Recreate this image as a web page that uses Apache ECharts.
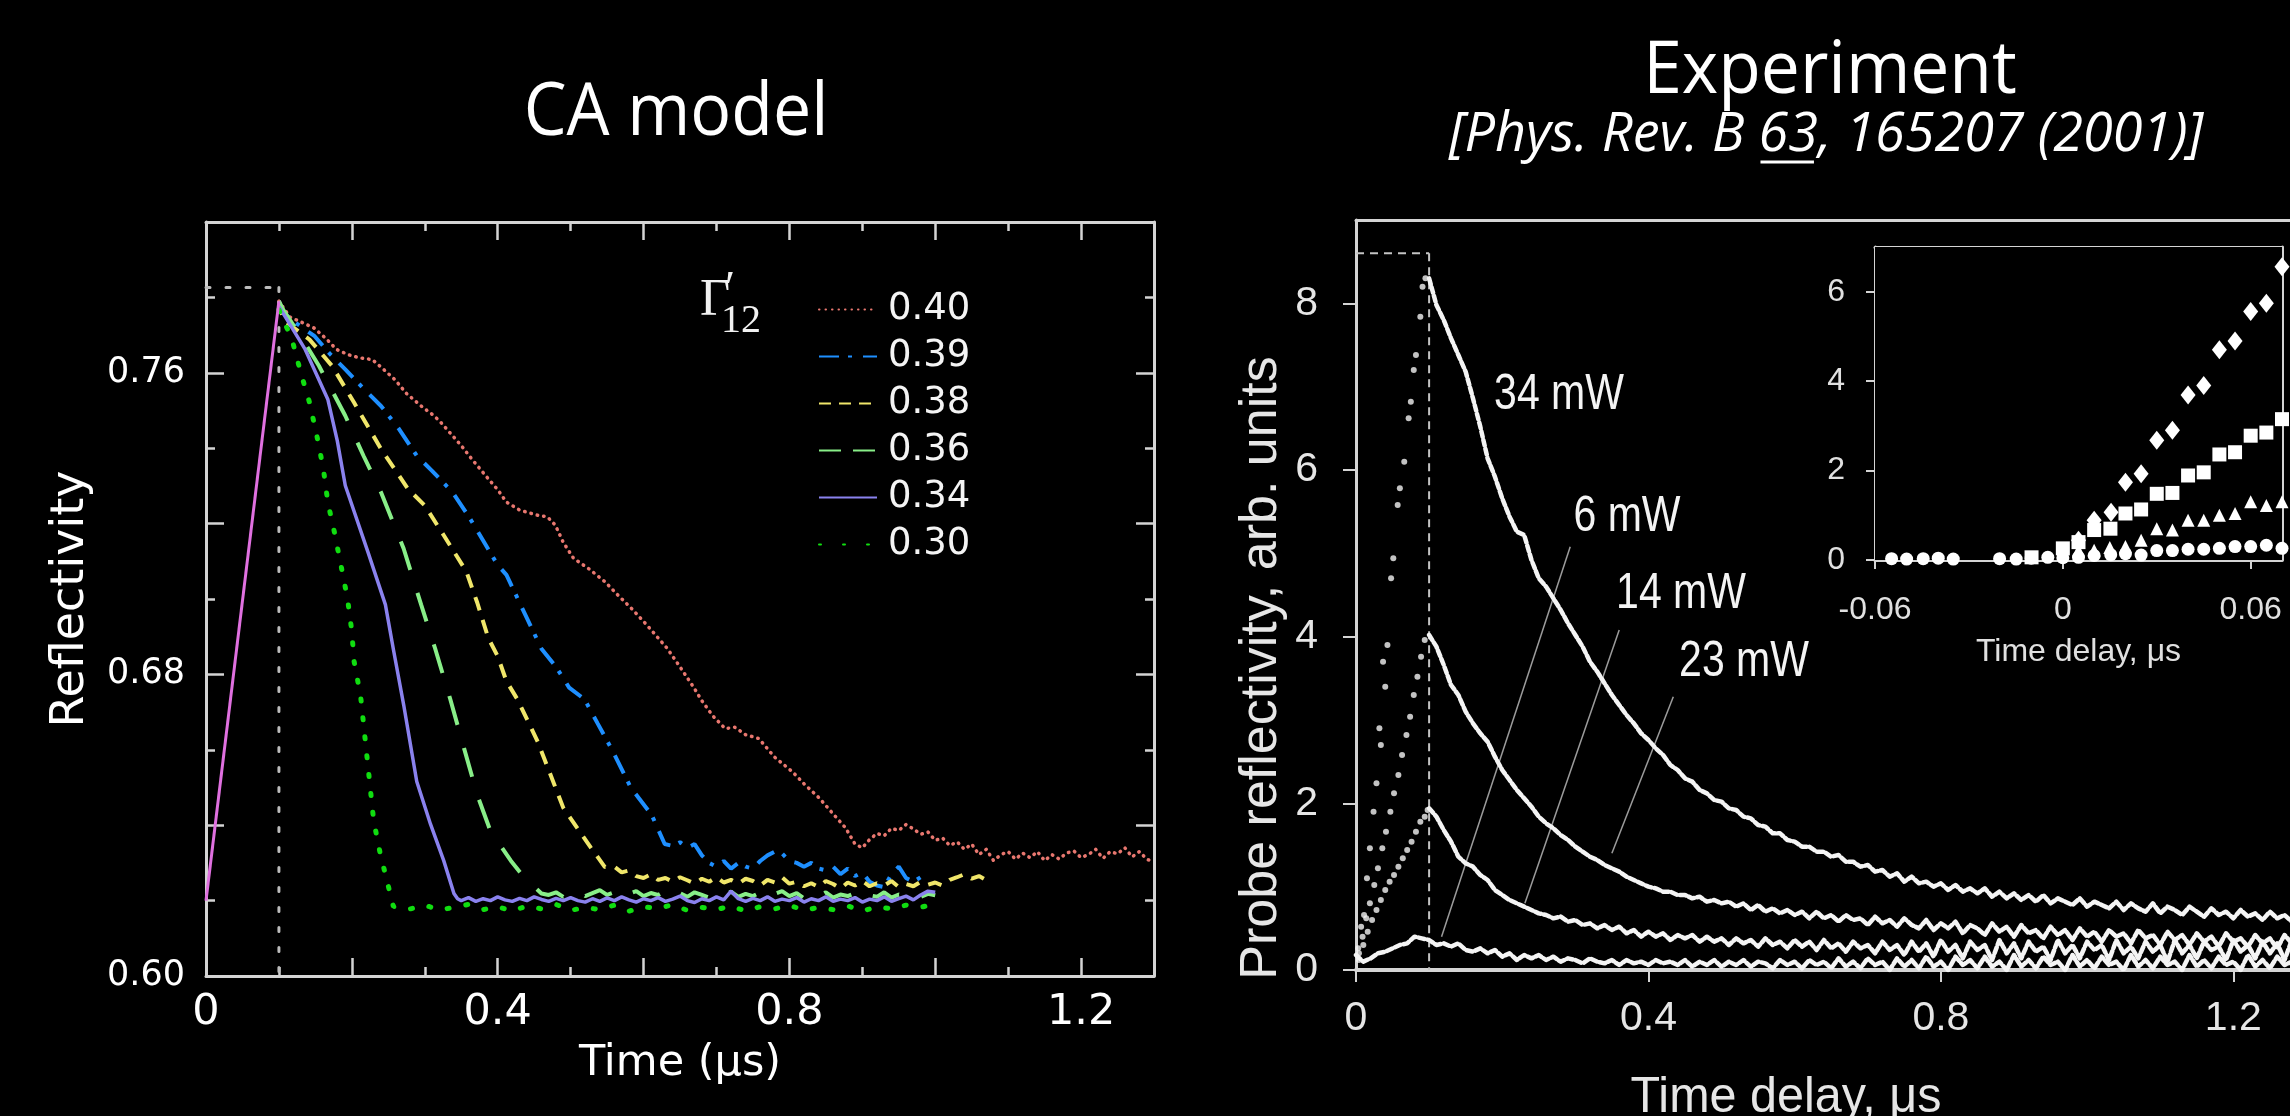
<!DOCTYPE html>
<html>
<head>
<meta charset="utf-8">
<script src="https://cdn.jsdelivr.net/npm/echarts@6/dist/echarts.min.js"></script>
<style>
  html, body { margin: 0; padding: 0; background: #000; }
  #chart { width: 2290px; height: 1116px; }
</style>
</head>
<body>
<div id="chart"></div>
<script>
// ---------------- CA model (left panel) ----------------
// Reflectivity vs time (µs) for several Γ'12 values: [time, reflectivity]
const modelNames = ['0.40', '0.39', '0.38', '0.36', '0.34', '0.30'];

const model040 = [[0.10,0.7790],[0.115,0.7748],[0.13,0.7735],[0.148,0.7719],[0.165,0.7690],[0.179,0.7662],[0.195,0.7648],[0.21,0.7640],[0.228,0.7635],[0.243,0.7610],[0.259,0.7582],[0.275,0.7545],[0.295,0.7512],[0.31,0.7490],[0.32,0.7473],[0.335,0.7440],[0.35,0.7407],[0.365,0.7370],[0.387,0.7319],[0.40,0.7290],[0.412,0.7257],[0.43,0.7236],[0.455,0.7222],[0.468,0.7218],[0.479,0.7196],[0.49,0.7150],[0.504,0.7108],[0.525,0.7080],[0.547,0.7046],[0.565,0.7010],[0.583,0.6976],[0.605,0.6930],[0.632,0.6870],[0.65,0.6820],[0.669,0.6765],[0.68,0.6730],[0.695,0.6690],[0.712,0.6656],[0.725,0.6660],[0.74,0.6640],[0.758,0.6630],[0.78,0.6580],[0.804,0.6542],[0.82,0.6510],[0.841,0.6472],[0.86,0.6430],[0.877,0.6393],[0.89,0.6350],[0.90,0.6340],[0.91,0.6362],[0.92,0.6378],[0.93,0.6372],[0.94,0.6392],[0.95,0.6386],[0.96,0.6402],[0.97,0.6390],[0.98,0.6376],[0.99,0.6382],[1.00,0.6360],[1.01,0.6366],[1.02,0.6346],[1.03,0.6356],[1.04,0.6336],[1.05,0.6350],[1.06,0.6322],[1.07,0.6336],[1.08,0.6306],[1.09,0.6322],[1.10,0.6330],[1.11,0.6310],[1.12,0.6326],[1.13,0.6314],[1.14,0.6330],[1.15,0.6306],[1.16,0.6322],[1.17,0.6310],[1.18,0.6326],[1.19,0.6332],[1.20,0.6314],[1.21,0.6322],[1.22,0.6336],[1.23,0.6312],[1.24,0.6330],[1.25,0.6324],[1.26,0.6340],[1.27,0.6316],[1.28,0.6330],[1.29,0.6310],[1.30,0.6302]];

const model039 = [[0.10,0.7790],[0.106,0.7758],[0.125,0.7730],[0.149,0.7697],[0.17,0.7650],[0.191,0.7609],[0.215,0.7560],[0.24,0.7512],[0.265,0.7450],[0.289,0.7380],[0.31,0.7340],[0.338,0.7283],[0.36,0.7220],[0.381,0.7152],[0.40,0.7090],[0.412,0.7064],[0.435,0.6970],[0.46,0.6868],[0.48,0.6820],[0.498,0.6765],[0.519,0.6734],[0.537,0.6670],[0.556,0.6603],[0.583,0.6498],[0.611,0.6428],[0.629,0.6350],[0.64,0.6345],[0.65,0.6355],[0.66,0.6340],[0.67,0.6350],[0.68,0.6320],[0.69,0.6300],[0.70,0.6290],[0.71,0.6305],[0.72,0.6285],[0.73,0.6300],[0.74,0.6290],[0.75,0.6285],[0.76,0.6305],[0.77,0.6320],[0.78,0.6330],[0.79,0.6325],[0.80,0.6305],[0.81,0.6300],[0.82,0.6290],[0.83,0.6300],[0.84,0.6285],[0.85,0.6280],[0.86,0.6290],[0.87,0.6270],[0.88,0.6285],[0.89,0.6265],[0.90,0.6275],[0.91,0.6250],[0.92,0.6240],[0.93,0.6236],[0.94,0.6270],[0.95,0.6290],[0.96,0.6260],[0.97,0.6250],[0.98,0.6262]];

const model038 = [[0.10,0.7790],[0.106,0.7740],[0.142,0.7688],[0.173,0.7618],[0.203,0.7521],[0.24,0.7398],[0.277,0.7292],[0.30,0.7248],[0.326,0.7169],[0.357,0.7073],[0.372,0.6990],[0.387,0.6897],[0.40,0.6848],[0.412,0.6782],[0.427,0.6734],[0.455,0.6621],[0.49,0.6446],[0.51,0.6390],[0.528,0.6340],[0.547,0.6289],[0.56,0.6290],[0.57,0.6275],[0.58,0.6280],[0.59,0.6265],[0.60,0.6260],[0.61,0.6270],[0.62,0.6255],[0.63,0.6260],[0.64,0.6250],[0.65,0.6262],[0.66,0.6254],[0.67,0.6245],[0.68,0.6258],[0.69,0.6250],[0.70,0.6262],[0.71,0.6248],[0.72,0.6255],[0.73,0.6245],[0.74,0.6258],[0.75,0.6252],[0.76,0.6240],[0.77,0.6255],[0.78,0.6248],[0.79,0.6262],[0.80,0.6245],[0.81,0.6250],[0.82,0.6238],[0.83,0.6246],[0.84,0.6236],[0.85,0.6252],[0.86,0.6244],[0.87,0.6232],[0.88,0.6248],[0.89,0.6240],[0.90,0.6252],[0.91,0.6238],[0.92,0.6246],[0.93,0.6240],[0.94,0.6252],[0.95,0.6236],[0.96,0.6244],[0.97,0.6238],[0.98,0.6250],[0.99,0.6242],[1.00,0.6248],[1.01,0.6240],[1.02,0.6255],[1.03,0.6262],[1.04,0.6270],[1.05,0.6258],[1.06,0.6265],[1.07,0.6254]];

const model036 = [[0.10,0.7790],[0.106,0.7767],[0.13,0.7697],[0.155,0.7618],[0.191,0.7486],[0.216,0.7380],[0.24,0.7283],[0.271,0.7134],[0.295,0.6985],[0.314,0.6870],[0.335,0.6734],[0.354,0.6603],[0.372,0.6480],[0.39,0.6385],[0.418,0.6306],[0.436,0.6262],[0.46,0.6219],[0.47,0.6215],[0.48,0.6222],[0.49,0.6210],[0.50,0.6218],[0.51,0.6225],[0.52,0.6212],[0.53,0.6220],[0.54,0.6228],[0.55,0.6215],[0.56,0.6222],[0.57,0.6232],[0.58,0.6218],[0.59,0.6225],[0.60,0.6212],[0.61,0.6220],[0.62,0.6215],[0.63,0.6226],[0.64,0.6212],[0.65,0.6220],[0.66,0.6210],[0.67,0.6222],[0.68,0.6215],[0.69,0.6208],[0.70,0.6220],[0.71,0.6214],[0.72,0.6224],[0.73,0.6210],[0.74,0.6218],[0.75,0.6212],[0.76,0.6222],[0.77,0.6208],[0.78,0.6218],[0.79,0.6225],[0.80,0.6212],[0.81,0.6220],[0.82,0.6206],[0.83,0.6216],[0.84,0.6210],[0.85,0.6222],[0.86,0.6208],[0.87,0.6216],[0.88,0.6212],[0.89,0.6220],[0.90,0.6206],[0.91,0.6214],[0.92,0.6210],[0.93,0.6222],[0.94,0.6208],[0.95,0.6216],[0.96,0.6212],[0.97,0.6220],[0.98,0.6210],[0.99,0.6218],[1.00,0.6214]];

const model034 = [[0.10,0.7776],[0.136,0.7662],[0.167,0.7530],[0.18,0.7420],[0.191,0.7301],[0.222,0.7125],[0.246,0.6985],[0.257,0.6866],[0.271,0.6720],[0.289,0.6516],[0.308,0.6402],[0.326,0.6306],[0.34,0.6219],[0.345,0.6205],[0.35,0.6200],[0.36,0.6208],[0.37,0.6198],[0.38,0.6205],[0.39,0.6200],[0.40,0.6210],[0.41,0.6202],[0.42,0.6198],[0.43,0.6206],[0.44,0.6200],[0.45,0.6210],[0.46,0.6203],[0.47,0.6198],[0.48,0.6206],[0.49,0.6200],[0.50,0.6208],[0.51,0.6200],[0.52,0.6196],[0.53,0.6205],[0.54,0.6198],[0.55,0.6207],[0.56,0.6200],[0.57,0.6210],[0.58,0.6202],[0.59,0.6196],[0.60,0.6205],[0.61,0.6200],[0.62,0.6208],[0.63,0.6198],[0.64,0.6204],[0.65,0.6212],[0.66,0.6200],[0.67,0.6195],[0.68,0.6205],[0.69,0.6200],[0.70,0.6210],[0.71,0.6202],[0.72,0.6225],[0.73,0.6205],[0.74,0.6198],[0.75,0.6206],[0.76,0.6200],[0.77,0.6210],[0.78,0.6198],[0.79,0.6204],[0.80,0.6200],[0.81,0.6208],[0.82,0.6196],[0.83,0.6205],[0.84,0.6200],[0.85,0.6210],[0.86,0.6198],[0.87,0.6204],[0.88,0.6200],[0.89,0.6208],[0.90,0.6196],[0.91,0.6204],[0.92,0.6200],[0.93,0.6210],[0.94,0.6198],[0.95,0.6205],[0.96,0.6212],[0.97,0.6202],[0.98,0.6215],[0.99,0.6225],[1.00,0.6222]];

const model030 = [[0.10,0.7767],[0.118,0.7688],[0.13,0.7600],[0.142,0.7521],[0.152,0.7433],[0.161,0.7345],[0.167,0.7257],[0.176,0.7178],[0.185,0.7090],[0.194,0.7002],[0.20,0.6914],[0.203,0.6835],[0.212,0.6743],[0.221,0.6577],[0.23,0.6411],[0.239,0.6324],[0.248,0.6254],[0.257,0.6184],[0.26,0.6185],[0.28,0.6178],[0.30,0.6188],[0.32,0.6175],[0.34,0.6182],[0.36,0.6190],[0.38,0.6176],[0.40,0.6184],[0.42,0.6172],[0.44,0.6186],[0.46,0.6178],[0.48,0.6190],[0.50,0.6174],[0.52,0.6182],[0.54,0.6176],[0.56,0.6188],[0.58,0.6172],[0.60,0.6184],[0.62,0.6178],[0.64,0.6190],[0.66,0.6174],[0.68,0.6182],[0.70,0.6176],[0.72,0.6186],[0.74,0.6172],[0.76,0.6184],[0.78,0.6178],[0.80,0.6188],[0.82,0.6174],[0.84,0.6182],[0.86,0.6176],[0.88,0.6186],[0.90,0.6172],[0.92,0.6184],[0.94,0.6178],[0.96,0.6188],[0.98,0.6182],[1.00,0.6192]];

// Common pump ramp before the peak
const modelPump = [[0, 0.620], [0.10, 0.7790]];
// Dotted guide lines marking the peak
const modelGuideH = [[0, 0.7826], [0.10, 0.7826]];
const modelGuideV = [[0.10, 0.7826], [0.10, 0.60]];

const modelMinorX = [0,0.1,0.2,0.3,0.4,0.5,0.6,0.7,0.8,0.9,1.0,1.1,1.2];
const modelMajorX = [0,0.2,0.4,0.6,0.8,1.0,1.2];
const modelXLabels = [0, 0.4, 0.8, 1.2];
const modelMinorY = [0.62,0.66,0.70,0.74,0.78];
const modelMajorY = [0.60,0.64,0.68,0.72,0.76,0.80];
const modelYLabels = [0.60, 0.68, 0.76];

// ---------------- Experiment (right panel) ----------------
// Decay traces sampled every 0.01 µs, starting at 0.10 µs (6 mW starts at 0)
const EXP_STEP = 0.01;
const exp34 = [
  8.30,7.98,7.80,7.58,7.38,7.18,6.86,6.52,6.14,5.92,
  5.66,5.44,5.26,5.22,4.92,4.70,4.60,4.46,4.32,4.16,
  4.02,3.88,3.70,3.58,3.44,3.30,3.18,3.06,2.96,2.84,
  2.76,2.66,2.58,2.46,2.40,2.30,2.26,2.16,2.12,2.04,
  2.02,1.94,1.92,1.84,1.82,1.74,1.72,1.64,1.64,1.56,
  1.54,1.48,1.48,1.42,1.42,1.36,1.38,1.30,1.30,1.24,
  1.26,1.18,1.20,1.12,1.16,1.06,1.12,1.04,1.06,1.00,
  1.04,0.96,1.02,0.94,0.98,0.92,0.98,0.88,0.94,0.86,
  0.92,0.84,0.90,0.82,0.90,0.80,0.86,0.82,0.78,0.86,
  0.76,0.82,0.78,0.74,0.82,0.72,0.80,0.74,0.70,0.80,
  0.68,0.76,0.72,0.66,0.76,0.70,0.64,0.74,0.66,0.70,
  0.62,0.72,0.64,0.68,0.60,0.70,0.62,0.66,0.58,0.68,
  0.62,0.64,0.58,0.66,0.60,0.64];
const exp23 = [
  4.02,3.88,3.66,3.42,3.30,3.10,2.96,2.84,2.74,2.56,
  2.40,2.28,2.16,2.06,1.96,1.84,1.76,1.70,1.62,1.56,
  1.48,1.42,1.36,1.32,1.26,1.22,1.18,1.12,1.08,1.04,
  1.00,0.98,0.94,0.94,0.90,0.90,0.86,0.88,0.82,0.84,
  0.80,0.82,0.76,0.80,0.72,0.78,0.70,0.74,0.68,0.72,
  0.66,0.70,0.62,0.70,0.62,0.66,0.58,0.66,0.60,0.62,
  0.54,0.64,0.56,0.60,0.52,0.62,0.54,0.50,0.60,0.48,
  0.56,0.50,0.58,0.44,0.54,0.50,0.42,0.56,0.46,0.52,
  0.40,0.54,0.44,0.48,0.38,0.52,0.42,0.48,0.36,0.50,
  0.40,0.46,0.34,0.48,0.40,0.44,0.32,0.48,0.38,0.42,
  0.30,0.46,0.36,0.42,0.30,0.44,0.34,0.40,0.28,0.44,
  0.34,0.38,0.28,0.42,0.32,0.38,0.26,0.42,0.32,0.36,
  0.26,0.40,0.30,0.36,0.26,0.38];
const exp14 = [
  1.94,1.84,1.68,1.54,1.36,1.28,1.24,1.14,1.08,0.96,
  0.90,0.84,0.80,0.76,0.72,0.68,0.66,0.62,0.64,0.58,
  0.60,0.54,0.56,0.50,0.54,0.48,0.52,0.44,0.48,0.40,
  0.46,0.40,0.44,0.36,0.42,0.38,0.42,0.34,0.40,0.34,
  0.38,0.30,0.38,0.32,0.36,0.28,0.38,0.30,0.34,0.26,
  0.36,0.28,0.34,0.24,0.36,0.26,0.32,0.22,0.34,0.26,
  0.30,0.20,0.34,0.24,0.30,0.18,0.34,0.22,0.32,0.16,
  0.36,0.22,0.30,0.14,0.34,0.24,0.30,0.12,0.36,0.20,
  0.32,0.14,0.34,0.22,0.28,0.12,0.36,0.20,0.30,0.14,
  0.34,0.24,0.30,0.12,0.36,0.20,0.28,0.14,0.34,0.22,
  0.30,0.10,0.36,0.20,0.30,0.14,0.34,0.24,0.28,0.12,
  0.36,0.22,0.30,0.14,0.34,0.20,0.32,0.12,0.36,0.22,
  0.28,0.14,0.34,0.20,0.30,0.16];
const exp6 = [
  0.18,0.10,0.14,0.20,0.22,0.26,0.30,0.32,0.40,0.38,
  0.36,0.30,0.32,0.28,0.32,0.24,0.22,0.26,0.20,0.24,
  0.16,0.20,0.12,0.18,0.14,0.18,0.12,0.16,0.10,0.14,
  0.12,0.08,0.14,0.10,0.08,0.12,0.06,0.12,0.08,0.10,
  0.06,0.12,0.08,0.10,0.06,0.12,0.04,0.10,0.06,0.12,
  0.04,0.10,0.06,0.12,0.04,0.10,0.08,0.02,0.12,0.06,
  0.10,0.02,0.12,0.06,0.10,0.02,0.14,0.04,0.10,0.02,
  0.14,0.06,0.10,0.00,0.14,0.04,0.12,0.02,0.16,0.04,
  0.10,0.00,0.16,0.06,0.12,0.02,0.16,0.04,0.10,0.00,
  0.18,0.04,0.12,0.02,0.16,0.06,0.10,0.00,0.18,0.04,
  0.12,0.02,0.16,0.06,0.10,0.00,0.18,0.04,0.12,0.02,
  0.16,0.06,0.10,0.00,0.18,0.04,0.12,0.02,0.16,0.06,
  0.10,0.00,0.18,0.04,0.12,0.02,0.16,0.06,0.10,0.00,
  0.18,0.04,0.12,0.02,0.16,0.06];

// Rising edges (sparse points) [time, signal]
const rise34 = [[0.003,0.26],[0.007,0.52],[0.011,0.66],[0.015,1.10],[0.019,1.46],[0.024,1.90],[0.028,2.24],[0.032,2.90],[0.034,2.70],[0.037,3.70],[0.040,3.40],[0.043,3.90],[0.048,4.70],[0.051,4.94],[0.057,5.58],[0.060,5.78],[0.066,6.10],[0.072,6.62],[0.075,6.82],[0.079,7.20],[0.082,7.38],[0.088,7.84],[0.091,8.20],[0.095,8.30]];
const rise23 = [[0.004,0.20],[0.009,0.40],[0.014,0.62],[0.019,0.80],[0.025,1.02],[0.030,1.22],[0.036,1.46],[0.041,1.66],[0.047,1.90],[0.052,2.12],[0.058,2.34],[0.063,2.58],[0.069,2.82],[0.074,3.04],[0.079,3.30],[0.084,3.52],[0.089,3.76],[0.094,3.96]];
const rise14 = [[0.004,0.12],[0.010,0.30],[0.016,0.46],[0.022,0.60],[0.028,0.72],[0.034,0.84],[0.040,0.96],[0.046,1.06],[0.052,1.14],[0.058,1.24],[0.064,1.34],[0.070,1.44],[0.076,1.54],[0.082,1.66],[0.088,1.78],[0.094,1.84],[0.098,1.92]];

// Dashed guide marking the peak and pointer lines for the power labels
const expGuideH = [[0, 8.6], [0.10, 8.6]];
const expGuideV = [[0.10, 8.6], [0.10, 0]];
const leader6 = [[0.293, 5.08], [0.117, 0.40]];
const leader14 = [[0.360, 4.08], [0.231, 0.80]];
const leader23 = [[0.434, 3.28], [0.350, 1.40]];
const expXTicks = [0, 0.4, 0.8, 1.2];
const expYTicks = [0, 2, 4, 6, 8];

// Inset: early-time detail [time delay, signal]
const insetDiamond = [[0.005,0.44],[0.010,0.89],[0.0154,1.07],[0.020,1.74],[0.025,1.93],[0.030,2.68],[0.035,2.90],[0.040,3.69],[0.045,3.90],[0.050,4.70],[0.055,4.90],[0.060,5.56],[0.065,5.74],[0.070,6.56]];
const insetSquare = [[-0.010,0.06],[0.0,0.26],[0.005,0.40],[0.010,0.67],[0.0152,0.70],[0.020,1.04],[0.025,1.13],[0.030,1.48],[0.035,1.50],[0.040,1.89],[0.045,1.96],[0.050,2.36],[0.055,2.41],[0.060,2.78],[0.065,2.85],[0.070,3.15]];
const insetTriangle = [[0.005,0.22],[0.010,0.22],[0.015,0.28],[0.020,0.30],[0.025,0.44],[0.030,0.70],[0.035,0.67],[0.040,0.89],[0.045,0.89],[0.050,1.00],[0.055,1.04],[0.060,1.30],[0.065,1.22],[0.070,1.30]];
const insetCircle = [[-0.0547,0.03],[-0.0499,0.02],[-0.0446,0.03],[-0.0398,0.04],[-0.035,0.02],[-0.0202,0.03],[-0.0149,0.02],[-0.0101,0.04],[-0.0048,0.06],[0.0,0.05],[0.005,0.06],[0.010,0.10],[0.0153,0.12],[0.020,0.14],[0.025,0.11],[0.030,0.21],[0.035,0.21],[0.040,0.24],[0.045,0.24],[0.050,0.26],[0.055,0.30],[0.060,0.30],[0.065,0.33],[0.070,0.26]];
const insetXTicks = [-0.06, 0, 0.06];
const insetYTicks = [0, 2, 4, 6];

// ---------------- helpers ----------------
const measureCtx = document.createElement('canvas').getContext('2d');
function textWidth(str, font) { measureCtx.font = font; return measureCtx.measureText(str).width; }
function sampled(values, t0) {
  return values.map((v, i) => [Math.round((t0 + i * EXP_STEP) * 100) / 100, v]);
}
const near = (a, b) => Math.abs(a - b) < 1e-6;
const inList = (v, list) => list.some(x => near(x, v));

// Narrow sans for the experiment panel if available
const hasNarrow = textWidth('0.4 mW', "48px 'Liberation Sans Narrow', monospace") <
                  textWidth('0.4 mW', "48px 'Liberation Sans'") * 0.92;
const expFont = hasNarrow ? "'Liberation Sans Narrow'" : "'Liberation Sans'";
const expSize = hasNarrow ? 48 : 41;

const AXIS_GRAY = '#d4d4d4';
const EXP_WHITE = '#f4f4f4';
const modelColors = ['#e8776f', '#1e8fff', '#f0e66a', '#88ee88', '#8a82ee', '#10dd10'];
const modelStyles = [
  { width: 3.5, type: [0.5, 6], cap: 'round' },
  { width: 4, type: [20, 9, 4, 11], cap: 'butt' },
  { width: 4, type: [14, 10], cap: 'butt' },
  { width: 4, type: [30, 24], cap: 'butt' },
  { width: 3.5, type: 'solid', cap: 'butt' },
  { width: 5, type: [2, 17], cap: 'round' }
];
// Legend samples are shorter than the curves, so the long dash gets a tighter pattern there
const legendDash = [[0.5, 6], [20, 9, 4, 11], [12, 8], [22, 12], 'solid', [2, 22]];
const modelData = [model040, model039, model038, model036, model034, model030];

// ---------------- axes ----------------
function modelX(position, ticks, len, showLine, extra) {
  return Object.assign({
    type: 'value', gridIndex: 0, position, min: 0, max: 1.3,
    interval: len > 10 ? 0.2 : 0.1,
    splitLine: { show: false },
    axisLine: { show: showLine, onZero: false, lineStyle: { color: AXIS_GRAY, width: 3 } },
    axisTick: { show: true, inside: true, length: len, customValues: ticks,
                lineStyle: { color: AXIS_GRAY, width: 2.5 } },
    axisLabel: { show: false }
  }, extra || {});
}
function modelY(position, ticks, len, showLine, extra) {
  return Object.assign({
    type: 'value', gridIndex: 0, position, min: 0.6, max: 0.8,
    interval: len > 10 ? 0.04 : 0.02,
    splitLine: { show: false },
    axisLine: { show: showLine, onZero: false, lineStyle: { color: AXIS_GRAY, width: 3 } },
    axisTick: { show: true, inside: true, length: len, customValues: ticks,
                lineStyle: { color: AXIS_GRAY, width: 2.5 } },
    axisLabel: { show: false }
  }, extra || {});
}

const xAxes = [
  modelX('bottom', modelMinorX, 9, true, {
    name: 'Time (μs)', nameLocation: 'middle', nameGap: 66,
    nameTextStyle: { color: '#ffffff', fontSize: 43, fontFamily: 'DejaVu Sans' },
    axisLabel: {
      show: true, customValues: modelXLabels, margin: 15,
      color: '#ffffff', fontSize: 43, fontFamily: 'DejaVu Sans',
      formatter: v => inList(v, modelXLabels) ? (near(v, 0) ? '0' : String(+v.toFixed(1))) : ''
    }
  }),
  modelX('bottom', modelMajorX, 18, false),
  modelX('top', modelMinorX, 9, true),
  modelX('top', modelMajorX, 18, false),
  // experiment main axes
  {
    type: 'value', gridIndex: 1, position: 'bottom', min: 0, max: 1.35, interval: 0.4,
    splitLine: { show: false },
    axisLine: { show: true, onZero: false, lineStyle: { color: AXIS_GRAY, width: 4 } },
    axisTick: { show: true, inside: false, length: 12, customValues: expXTicks,
                lineStyle: { color: AXIS_GRAY, width: 2 } },
    axisLabel: {
      show: true, customValues: expXTicks, margin: 28, color: '#e6e6e6',
      fontSize: expSize, fontFamily: expFont,
      formatter: v => inList(v, expXTicks) ? (near(v, 0) ? '0' : String(+v.toFixed(1))) : ''
    }
  },
  {
    type: 'value', gridIndex: 1, position: 'top', min: 0, max: 1.35,
    splitLine: { show: false },
    axisLine: { show: true, onZero: false, lineStyle: { color: AXIS_GRAY, width: 3 } },
    axisTick: { show: false }, axisLabel: { show: false }
  },
  // inset axes
  {
    type: 'value', gridIndex: 2, position: 'bottom', min: -0.06, max: 0.07, interval: 0.06,
    splitLine: { show: false },
    axisLine: { show: true, onZero: false, lineStyle: { color: AXIS_GRAY, width: 3 } },
    axisTick: { show: true, inside: false, length: 9, customValues: insetXTicks,
                lineStyle: { color: AXIS_GRAY, width: 2 } },
    axisLabel: {
      show: true, customValues: insetXTicks, margin: 34, color: '#e0e0e0',
      fontSize: 32, fontFamily: "'Liberation Sans'",
      formatter: v => inList(v, insetXTicks) ? (near(v, 0) ? '0' : v.toFixed(2)) : ''
    },
    name: 'Time delay, μs', nameLocation: 'middle', nameGap: 76,
    nameTextStyle: { color: '#e0e0e0', fontSize: 32, fontFamily: "'Liberation Sans'" }
  },
  {
    type: 'value', gridIndex: 2, position: 'top', min: -0.06, max: 0.07,
    splitLine: { show: false },
    axisLine: { show: true, onZero: false, lineStyle: { color: AXIS_GRAY, width: 3 } },
    axisTick: { show: false }, axisLabel: { show: false }
  }
];

const yAxes = [
  modelY('left', modelMinorY, 9, true),
  modelY('left', modelMajorY, 18, false, {
    name: 'Reflectivity', nameLocation: 'middle', nameGap: 112,
    nameTextStyle: { color: '#ffffff', fontSize: 46, fontFamily: 'DejaVu Sans' },
    axisLabel: {
      show: true, customValues: modelYLabels, margin: 21,
      color: '#ffffff', fontSize: 35, fontFamily: 'DejaVu Sans',
      formatter: v => inList(v, modelYLabels) ? v.toFixed(2) : ''
    }
  }),
  modelY('right', modelMinorY, 9, true),
  modelY('right', modelMajorY, 18, false),
  // experiment main
  {
    type: 'value', gridIndex: 1, position: 'left', min: 0, max: 9, interval: 2,
    splitLine: { show: false },
    axisLine: { show: true, onZero: false, lineStyle: { color: AXIS_GRAY, width: 3 } },
    axisTick: { show: true, inside: false, length: 13, customValues: expYTicks,
                lineStyle: { color: AXIS_GRAY, width: 2 } },
    axisLabel: {
      show: true, customValues: expYTicks, margin: 38, color: '#e6e6e6',
      fontSize: expSize, fontFamily: expFont,
      formatter: v => inList(v, expYTicks) ? String(v) : ''
    }
  },
  // inset
  {
    type: 'value', gridIndex: 2, position: 'left', min: 0, max: 7, interval: 2,
    splitLine: { show: false },
    axisLine: { show: true, onZero: false, lineStyle: { color: AXIS_GRAY, width: 3 } },
    axisTick: { show: true, inside: false, length: 9, customValues: insetYTicks,
                lineStyle: { color: AXIS_GRAY, width: 2 } },
    axisLabel: {
      show: true, customValues: insetYTicks, margin: 30, color: '#e0e0e0',
      fontSize: 32, fontFamily: "'Liberation Sans'",
      formatter: v => inList(v, insetYTicks) ? String(v) : ''
    }
  },
  {
    type: 'value', gridIndex: 2, position: 'right', min: 0, max: 7,
    splitLine: { show: false },
    axisLine: { show: true, onZero: false, lineStyle: { color: AXIS_GRAY, width: 3 } },
    axisTick: { show: false }, axisLabel: { show: false }
  }
];

// ---------------- series ----------------
const series = [];
modelNames.forEach((name, i) => {
  series.push({
    name, type: 'line', xAxisIndex: 0, yAxisIndex: 0, data: modelData[i],
    symbol: 'none', showSymbol: false, silent: true, animation: false, z: 3 + i,
    itemStyle: { color: modelColors[i], opacity: 0 },
    lineStyle: Object.assign({ color: modelColors[i] }, modelStyles[i])
  });
});
series.push({
  name: 'pump', type: 'line', xAxisIndex: 0, yAxisIndex: 0, data: modelPump,
  symbol: 'none', silent: true, animation: false, z: 10,
  lineStyle: { color: '#e070e0', width: 3 }
});
[modelGuideH, modelGuideV].forEach(g => series.push({
  type: 'line', xAxisIndex: 0, yAxisIndex: 0, data: g, symbol: 'none', silent: true,
  animation: false, z: 2, lineStyle: { color: '#bdbdbd', width: 3, type: [4, 16], cap: 'round' }
}));

// experiment
[expGuideH, expGuideV].forEach(g => series.push({
  type: 'line', xAxisIndex: 4, yAxisIndex: 4, data: g, symbol: 'none', silent: true,
  animation: false, z: 2, lineStyle: { color: '#c4c4c4', width: 2, type: [8, 6] }
}));
[leader6, leader14, leader23].forEach(g => series.push({
  type: 'line', xAxisIndex: 4, yAxisIndex: 4, data: g, symbol: 'none', silent: true,
  animation: false, z: 2, lineStyle: { color: '#9c9c9c', width: 1.5 }
}));
[[exp34, 0.10], [exp23, 0.10], [exp14, 0.10], [exp6, 0.00]].forEach(([vals, t0]) => series.push({
  type: 'line', xAxisIndex: 4, yAxisIndex: 4, data: sampled(vals, t0), symbol: 'none',
  silent: true, animation: false, z: 4,
  lineStyle: { color: EXP_WHITE, width: 4.5, type: [6, 3], cap: 'round', join: 'round' }
}));
[rise34, rise23, rise14].forEach(r => series.push({
  type: 'scatter', xAxisIndex: 4, yAxisIndex: 4, data: r, symbol: 'circle', symbolSize: 6,
  silent: true, animation: false, z: 4, itemStyle: { color: EXP_WHITE }
}));

// inset markers
[[insetCircle, 'circle', 13], [insetTriangle, 'triangle', 13], [insetSquare, 'rect', 14],
 [insetDiamond, 'diamond', [15, 19]]].forEach(([d, sym, size]) => series.push({
  type: 'scatter', xAxisIndex: 6, yAxisIndex: 5, data: d, symbol: sym, symbolSize: size,
  clip: false, silent: true, animation: false, z: 6, itemStyle: { color: '#ffffff', opacity: 1 }
}));

// ---------------- decorations ----------------
const subFont = "italic 54px 'Open Sans'";
const subText = '[Phys. Rev. B 63, 165207 (2001)]';
const subCx = 1826;
const subY = 136;
const subLeft = subCx - textWidth(subText, subFont) / 2;
const ulX0 = subLeft + textWidth('[Phys. Rev. B ', subFont);
const ulX1 = ulX0 + textWidth('63', subFont);

const graphic = [
  { type: 'text', x: 676, y: 114, scaleX: 0.92,
    style: { text: 'CA model', fill: '#ffffff', font: "74px 'Open Sans'", align: 'center', verticalAlign: 'middle' } },
  { type: 'text', x: 1830, y: 72, scaleX: 0.94,
    style: { text: 'Experiment', fill: '#ffffff', font: "74px 'Open Sans'", align: 'center', verticalAlign: 'middle' } },
  { type: 'text', x: subCx, y: subY,
    style: { text: subText, fill: '#ffffff', font: subFont, align: 'center', verticalAlign: 'middle' } },
  { type: 'line', shape: { x1: ulX0 + 2, y1: subY + 26, x2: ulX1 - 4, y2: subY + 26 },
    style: { stroke: '#ffffff', lineWidth: 3 } },
  // Γ'12 legend heading
  { type: 'text', x: 700, y: 301,
    style: { text: 'Γ', fill: '#f2f2f2', font: "52px 'Liberation Serif'", align: 'left', verticalAlign: 'middle' } },
  { type: 'text', x: 725, y: 291,
    style: { text: '′', fill: '#f2f2f2', font: "46px 'Liberation Serif'", align: 'left', verticalAlign: 'middle' } },
  { type: 'text', x: 721, y: 321,
    style: { text: '12', fill: '#f2f2f2', font: "40px 'Liberation Serif'", align: 'left', verticalAlign: 'middle' } },
  // power labels
  { type: 'text', x: 1559, y: 395, scaleX: 0.82,
    style: { text: '34 mW', fill: EXP_WHITE, font: "50px 'Liberation Sans'", align: 'center', verticalAlign: 'middle' } },
  { type: 'text', x: 1627, y: 517, scaleX: 0.82,
    style: { text: '6 mW', fill: EXP_WHITE, font: "50px 'Liberation Sans'", align: 'center', verticalAlign: 'middle' } },
  { type: 'text', x: 1681, y: 594, scaleX: 0.82,
    style: { text: '14 mW', fill: EXP_WHITE, font: "50px 'Liberation Sans'", align: 'center', verticalAlign: 'middle' } },
  { type: 'text', x: 1744, y: 662, scaleX: 0.82,
    style: { text: '23 mW', fill: EXP_WHITE, font: "50px 'Liberation Sans'", align: 'center', verticalAlign: 'middle' } },
  // experiment axis names
  { type: 'text', x: 1262, y: 668, rotation: Math.PI / 2,
    style: { text: 'Probe reflectivity, arb. units', fill: '#e6e6e6', font: "52px 'Liberation Sans'", align: 'center', verticalAlign: 'middle' } },
  { type: 'text', x: 1786, y: 1098, scaleX: 0.97,
    style: { text: 'Time delay, μs', fill: '#e6e6e6', font: "50px 'Liberation Sans'", align: 'center', verticalAlign: 'middle' } }
];

const chart = echarts.init(document.getElementById('chart'), null, { renderer: 'canvas' });
chart.setOption({
  backgroundColor: '#000000',
  animation: false,
  grid: [
    { left: 206, top: 222, width: 948, height: 754, outerBoundsMode: 'none', containLabel: false },
    { left: 1356, top: 220, width: 987, height: 750, outerBoundsMode: 'none', containLabel: false },
    { left: 1875, top: 247, width: 407, height: 313, outerBoundsMode: 'none', containLabel: false,
      show: true, backgroundColor: '#000000', borderWidth: 0, z: 5 }
  ],
  legend: {
    orient: 'vertical', left: 813, top: 286, itemWidth: 58, itemHeight: 16, itemGap: 10,
    selectedMode: false,
    itemStyle: { opacity: 0 },
    textStyle: { color: '#f4f4f4', fontSize: 37, fontFamily: 'DejaVu Sans', padding: [0, 0, 0, 6] },
    data: modelNames.map((n, i) => ({
      name: n, itemStyle: { opacity: 0 },
      lineStyle: { cap: modelStyles[i].cap, type: legendDash[i] }
    }))
  },
  xAxis: xAxes,
  yAxis: yAxes,
  series,
  graphic
});
</script>
</body>
</html>
